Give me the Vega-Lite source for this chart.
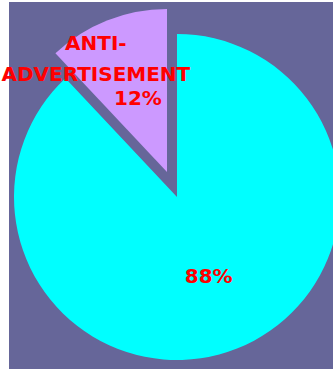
{
  "$schema": "https://vega.github.io/schema/vega-lite/v6.json",
  "width": 324,
  "height": 367,
  "autosize": {"type": "none"},
  "padding": {"left": 9, "top": 2, "right": 0, "bottom": 1},
  "background": "white",
  "view": {"fill": "#666699", "stroke": null},
  "data": {
    "values": [
      {"cat": "OTHER", "value": 88, "pct": "88%", "name": ""},
      {"cat": "ANTI-ADVERTISEMENT", "value": 12, "pct": "12%", "name": "ANTI-\nADVERTISEMENT"}
    ]
  },
  "encoding": {
    "theta": {"field": "value", "type": "quantitative", "stack": true},
    "order": {"field": "value", "sort": "descending"}
  },
  "layer": [
    {
      "mark": {"type": "arc", "outerRadius": 163, "xOffset": 6, "yOffset": 11.5},
      "encoding": {
        "color": {"field": "cat", "type": "nominal", "legend": null,
          "scale": {"domain": ["OTHER", "ANTI-ADVERTISEMENT"], "range": ["#00FFFF", "#CC99FF"]}},
        "opacity": {"condition": {"test": "datum.cat == 'OTHER'", "value": 1}, "value": 0}
      }
    },
    {
      "mark": {"type": "arc", "outerRadius": 163, "xOffset": -4, "yOffset": -13.5},
      "encoding": {
        "color": {"field": "cat", "type": "nominal", "legend": null},
        "opacity": {"condition": {"test": "datum.cat == 'ANTI-ADVERTISEMENT'", "value": 1}, "value": 0}
      }
    },
    {
      "mark": {"type": "text", "radius": 86, "xOffset": 6, "yOffset": 11.5, "font": "DejaVu Sans", "fontWeight": "bold", "fontSize": 20, "color": "#FF0000"},
      "encoding": {
        "text": {"field": "pct"},
        "opacity": {"condition": {"test": "datum.cat == 'OTHER'", "value": 1}, "value": 0}
      }
    },
    {
      "mark": {"type": "text", "radius": 79, "xOffset": -4, "yOffset": -13.5, "font": "DejaVu Sans", "fontWeight": "bold", "fontSize": 20, "color": "#FF0000"},
      "encoding": {
        "text": {"field": "pct"},
        "opacity": {"condition": {"test": "datum.cat == 'ANTI-ADVERTISEMENT'", "value": 1}, "value": 0}
      }
    },
    {
      "mark": {"type": "text", "radius": 120, "xOffset": -4, "yOffset": -13.5, "dx": -27, "dy": -16, "lineBreak": "\n", "lineHeight": 31, "font": "DejaVu Sans", "fontWeight": "bold", "fontSize": 20, "color": "#FF0000"},
      "encoding": {
        "text": {"field": "name"},
        "opacity": {"condition": {"test": "datum.cat == 'ANTI-ADVERTISEMENT'", "value": 1}, "value": 0}
      }
    }
  ]
}
